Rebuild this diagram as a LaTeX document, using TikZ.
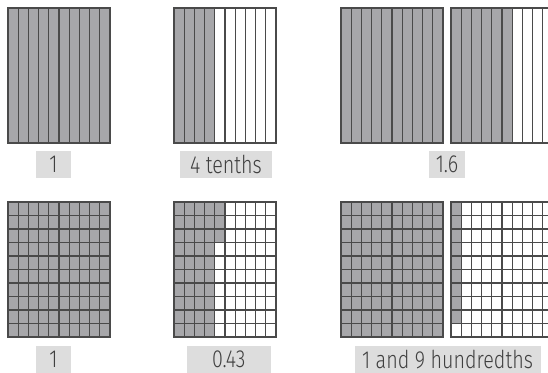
\documentclass[tikz,border=0pt]{standalone}
\usepackage{fontspec}
\newfontfamily\labfont[FakeStretch=0.8]{Fira Sans Light}
\definecolor{shade}{HTML}{A7A7AA}
\definecolor{gline}{HTML}{4A4A4A}
\definecolor{labbg}{HTML}{DDDDDD}
\definecolor{labtext}{HTML}{404040}
\tikzset{
  gridline/.style={draw=gline, line width=0.9pt},
  gridborder/.style={draw=gline, line width=1.1pt},
  shaded/.style={fill=shade},
  lab/.style={fill=labbg, inner sep=0pt, minimum height=20.25pt,
    font=\labfont\fontsize{18.5}{20}\selectfont, text=labtext, anchor=center},
}
\begin{document}
\begin{tikzpicture}[x=0.75pt,y=-0.75pt]
\clip (0,0) rectangle (548,373);
\fill[white] (0,0) rectangle (548,373);
% ---------- top row: tenths ----------
\fill[shaded] (8,8) rectangle ++(102,135);
\fill[shaded] (174,8) rectangle ++(40.8,135);
\fill[shaded] (341,8) rectangle ++(102,135);
\fill[shaded] (451,8) rectangle ++(61.2,135);
\foreach \x in {8,174,341,451}{
  \foreach \i in {1,...,9}{
    \draw[gridline] ({\x+\i*10.2},8) -- ++(0,135);
  }
  \draw[gridborder] (\x,8) rectangle ++(102,135);
}
% ---------- bottom row: hundredths ----------
\fill[shaded] (8,202) rectangle ++(102,135);
\fill[shaded] (174,202) rectangle ++(40.8,135);
\fill[shaded] (214.8,202) rectangle ++(10.2,40.5);
\fill[shaded] (341,202) rectangle ++(102,135);
\fill[shaded] (451,202) rectangle ++(10.2,121.5);
\foreach \x in {8,174,341,451}{
  \foreach \i in {1,...,9}{
    \draw[gridline] ({\x+\i*10.2},202) -- ++(0,135);
    \draw[gridline] (\x,{202+\i*13.5}) -- ++(102,0);
  }
  \draw[gridborder] (\x,202) rectangle ++(102,135);
}
% ---------- labels ----------
\node[lab, minimum width=26.25pt] (l1) at (53.5,164.5) {1};
\node[lab, minimum width=69pt] (l2) at (226,164.5) {4 tenths};
\node[lab, minimum width=27pt] (l3) at (447,164.5) {1.6};
\node[lab, minimum width=26.25pt] (l4) at (53.5,359.5) {1};
\node[lab, minimum width=63pt] (l5) at (228.7,359.5) {0.43};
\node[lab, minimum width=139.5pt] (l6) at (447.5,359.5) {1 and 9 hundredths};
\end{tikzpicture}
\end{document}
